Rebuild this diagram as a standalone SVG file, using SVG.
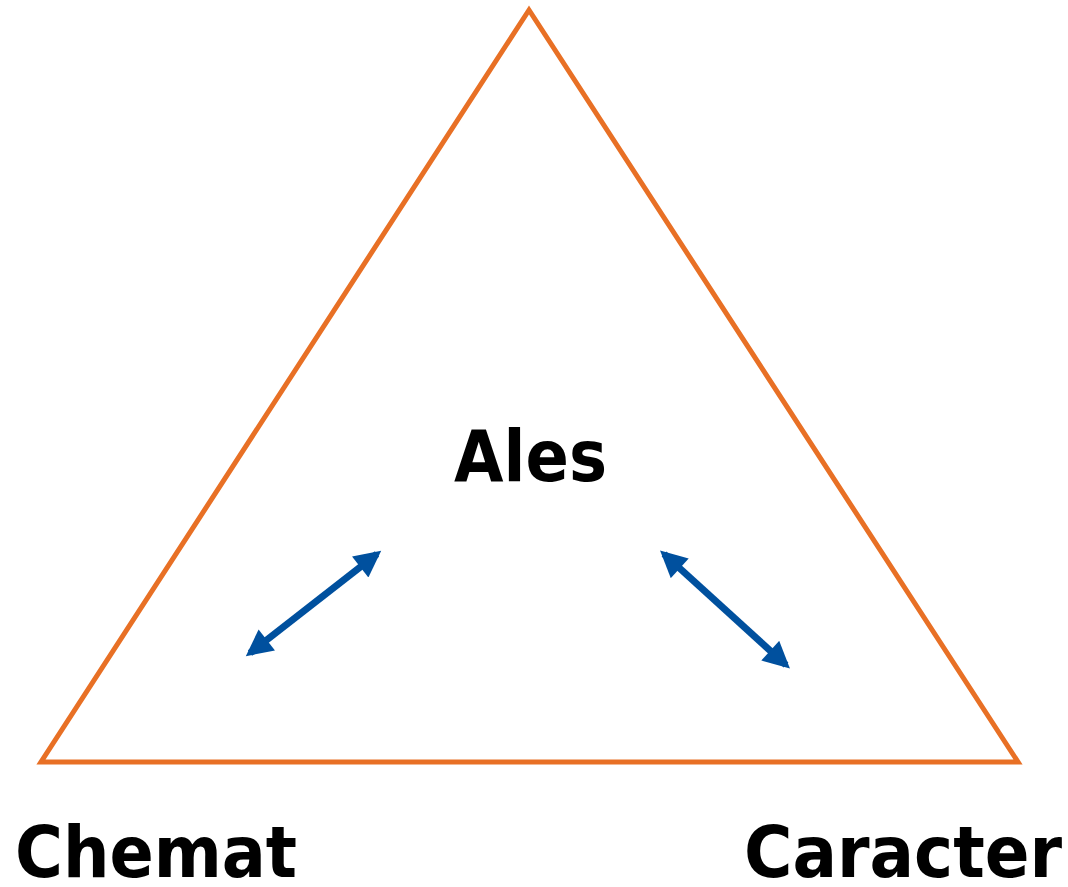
<svg xmlns="http://www.w3.org/2000/svg" width="1068" height="887" viewBox="0 0 1068 887">
<style>
.lbl{font-family:"DejaVu Sans",sans-serif;font-weight:bold;fill:#000;font-size:72px}
.arr{stroke:#00509E;stroke-width:7;fill:none;marker-start:url(#ah);marker-end:url(#ah)}
</style>
<defs>
<marker id="ah" viewBox="0 0 10 10" refX="8" refY="5" markerWidth="4" markerHeight="3.8" orient="auto-start-reverse" markerUnits="strokeWidth">
<path d="M0,0 L10,5 L0,10 Z" fill="#00509E"/>
</marker>
</defs>
<rect width="1068" height="887" fill="#fff"/>
<g id="triangle">
<polygon points="529,10 41,762 1018,762" fill="none" stroke="#E87025" stroke-width="5"/>
</g>
<g id="ales"><text class="lbl" x="454" y="481" font-size="75" textLength="153" lengthAdjust="spacingAndGlyphs">Ales</text></g>
<g id="chemat"><text class="lbl" x="15" y="877" textLength="282" lengthAdjust="spacingAndGlyphs">Chemat</text></g>
<g id="caracter"><text class="lbl" x="744" y="877" textLength="318" lengthAdjust="spacingAndGlyphs">Caracter</text></g>
<g id="connectors">
<line class="arr" x1="250" y1="653" x2="377" y2="554"/>
<line class="arr" x1="664" y1="554" x2="786" y2="665"/>
</g>
</svg>
